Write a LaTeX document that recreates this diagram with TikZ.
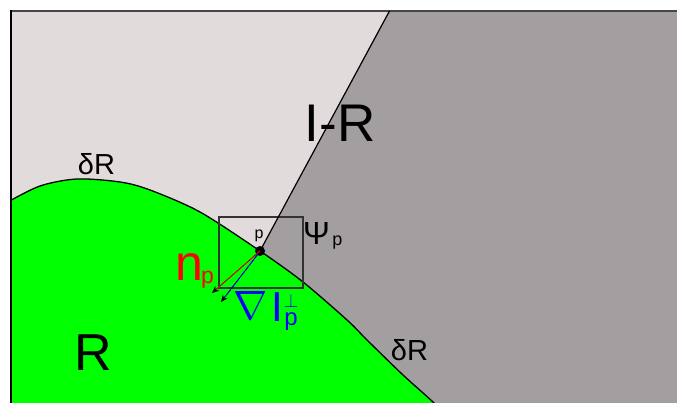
\documentclass[tikz,border=0pt]{standalone}
\usepackage{fontspec}
\setmainfont{Liberation Sans}
\usetikzlibrary{arrows.meta,calc}
\definecolor{lightreg}{RGB}{226,219,220}
\definecolor{darkreg}{RGB}{163,158,159}
\definecolor{greenreg}{RGB}{0,255,0}
\definecolor{topline}{RGB}{70,70,70}
\newcommand{\fsz}[1]{\fontsize{#1}{#1}\selectfont}
\begin{document}
\begin{tikzpicture}[x=1pt,y=-1pt,
  lbl/.style={inner sep=0, anchor=base},
  tipline/.style={line width=0.6, black, -{Stealth[length=7,width=6]}},
  colline/.style={line width=1, dash pattern=on 6 off 1.5, shorten >=6},
]
\useasboundingbox (0,0) rectangle (677,403);
\fill[white] (0,0) rectangle (677,403);
\def\curvepts{(6,203) (40,186) (77,179) (120,182) (150,190) (200,212) (260,251) (303,282) (347,320) (367,340) (403,375) (434,403) (460,430)}
\begin{scope}
\clip (11,11) rectangle (677,403);
\fill[lightreg] (11,11) rectangle (677,403);
\fill[darkreg] (389,11) -- (260,251) -- (262,420) -- (690,420) -- (690,0) -- cycle;
\fill[greenreg] plot[smooth,tension=0.5] coordinates {\curvepts} -- (460,440) -- (0,440) -- cycle;
\draw[line width=1.3] plot[smooth,tension=0.5] coordinates {\curvepts};
\end{scope}
\draw[topline, line width=2] (10,11) -- (677,11);
\draw[black, line width=2] (11,10) -- (11,403);
\node[draw=black!80, line width=1.1, minimum width=84, minimum height=71, inner sep=0] (psibox) at (261,252.5) {};
\node[circle, fill=black, inner sep=0, minimum size=10] (p) at (260,251) {};
\coordinate (wtop) at (389.5,11);
\draw[line width=1.2] (p.center) -- (wtop);
\coordinate (ntip) at (212,293);
\coordinate (gstart) at (258,254);
\coordinate (gtip) at (221,302);
\draw[tipline] (p.center) -- (ntip);
\draw[colline, red] (p.center) -- (ntip);
\draw[tipline] (gstart) -- (gtip);
\draw[colline, blue] (gstart) -- (gtip);
\node[lbl, font=\fsz{53}] (ir) at (340,142) {I-R};
\node[lbl, font=\fsz{52}] (R) at (93.5,370) {R};
\node[lbl, font=\fsz{29}] (dR1) at (96.5,175) {δR};
\node[lbl, font=\fsz{29}] (dR2) at (409.5,360) {δR};
\node[lbl, font=\fsz{16}] (plbl) at (259,238.5) {p};
\node[lbl, font=\fsz{32}] (psi) at (316.5,245) {Ψ};
\node[lbl, font=\fsz{18}] (psisub) at (337.5,246) {p};
\node[lbl, font=\fsz{50}, text=red] (n) at (189.5,280) {n};
\node[lbl, font=\fsz{23}, text=red] (nsub) at (207.5,283.7) {p};
\node[lbl, font=\fsz{10}, text=blue] (nabla) at (250.5,319.3) {\scalebox{4.1}{$\nabla$}};
\node[lbl, font=\fsz{42}, text=blue] (I) at (277.5,321.7) {I};
\node[lbl, font=\fsz{10}, text=blue] (perp) at (291,307.5) {\scalebox{1.9}{$\perp$}};
\node[lbl, font=\fsz{24}, text=blue] (gsub) at (291,325) {p};
\end{tikzpicture}
\end{document}
